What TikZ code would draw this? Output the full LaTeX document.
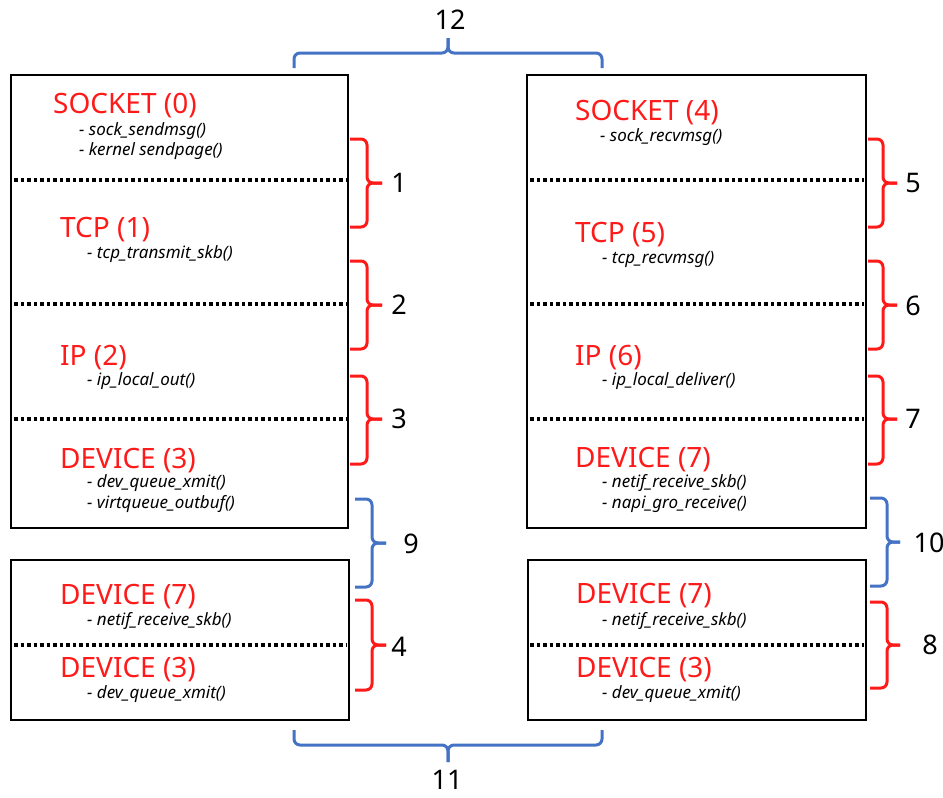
\documentclass[tikz,border=0pt]{standalone}
\usepackage{fontspec}
\setmainfont{Noto Sans}
\definecolor{tred}{HTML}{FF1A1A}
\definecolor{bblue}{HTML}{4472C4}
\newcommand\mybrace[7]{%
  \draw[#7] (#1,#4) -- (#2,#4) -- (#2,#5) -- (#3,#5);
  \draw[#7] (#1,#6) -- (#2,#6) -- (#2,#5) -- (#3,#5);}
\begin{document}
\begin{tikzpicture}[x=1pt,y=-1pt,
 box/.style={draw=black,line width=2pt},
 sep/.style={line width=3.5pt,dash pattern=on 3.5pt off 3pt},
 ttl/.style={anchor=base west,inner sep=0pt,text=tred,font=\fontsize{28}{30}\selectfont},
 fn/.style={anchor=base west,inner sep=0pt,font=\fontsize{17}{19}\selectfont\itshape},
 num/.style={inner sep=0pt,font=\fontsize{27}{30}\selectfont},
 rb/.style={draw=tred,line width=3pt,rounded corners=6pt},
 bb/.style={draw=bblue,line width=3pt,rounded corners=6pt}]
\useasboundingbox (0,0) rectangle (943,798);
% boxes
\draw[box] (11,75) rectangle (348,528);
\draw[box] (527,75) rectangle (866,528);
\draw[box] (11,560) rectangle (349,720);
\draw[box] (528,560) rectangle (866,720);
% separators
\foreach \y in {180,304,419} {
  \draw[sep] (14,\y) -- (346,\y);
  \draw[sep] (530,\y) -- (864,\y);
}
\draw[sep] (14,645) -- (346,645);
\draw[sep] (530,645) -- (864,645);
% left texts
\node[ttl] (s0) at (53,113) {SOCKET (0)};
\node[fn] (s0a) at (79,135) {- sock\_sendmsg()};
\node[fn] (s0b) at (79,155) {- kernel sendpage()};
\node[ttl] (t1) at (60,237) {TCP (1)};
\node[fn] (t1a) at (87,258) {- tcp\_transmit\_skb()};
\node[ttl] (i2) at (60,365) {IP (2)};
\node[fn] (i2a) at (87,385) {- ip\_local\_out()};
\node[ttl] (d3) at (60,468) {DEVICE (3)};
\node[fn] (d3a) at (87,487) {- dev\_queue\_xmit()};
\node[fn] (d3b) at (87,508) {- virtqueue\_outbuf()};
\node[ttl] (ld7) at (60,604) {DEVICE (7)};
\node[fn] (ld7a) at (87,625) {- netif\_receive\_skb()};
\node[ttl] (ld3) at (60,677) {DEVICE (3)};
\node[fn] (ld3a) at (87,698) {- dev\_queue\_xmit()};
% right texts
\node[ttl] (s4) at (575,120) {SOCKET (4)};
\node[fn] (s4a) at (600,141) {- sock\_recvmsg()};
\node[ttl] (t5) at (575,242) {TCP (5)};
\node[fn] (t5a) at (602,263) {- tcp\_recvmsg()};
\node[ttl] (i6) at (575,365) {IP (6)};
\node[fn] (i6a) at (602,385) {- ip\_local\_deliver()};
\node[ttl] (d7) at (575,467) {DEVICE (7)};
\node[fn] (d7a) at (602,487) {- netif\_receive\_skb()};
\node[fn] (d7b) at (602,508) {- napi\_gro\_receive()};
\node[ttl] (rd7) at (576,603) {DEVICE (7)};
\node[fn] (rd7a) at (602,625) {- netif\_receive\_skb()};
\node[ttl] (rd3) at (576,677) {DEVICE (3)};
\node[fn] (rd3a) at (602,698) {- dev\_queue\_xmit()};
% left braces
\mybrace{350}{367}{382}{139}{183}{227}{rb}
\mybrace{350}{367}{382}{261}{305}{349}{rb}
\mybrace{350}{367}{382}{376}{419}{464}{rb}
\mybrace{355}{372}{386}{499}{543}{587}{bb}
\mybrace{355}{372}{386}{600}{645}{690}{rb}
% right braces
\mybrace{868}{883}{897}{139}{183}{227}{rb}
\mybrace{868}{883}{897}{261}{305}{349}{rb}
\mybrace{868}{883}{897}{376}{419}{464}{rb}
\mybrace{870}{887}{900}{498}{542}{586}{bb}
\mybrace{870}{887}{900}{602}{645}{688}{rb}
% top and bottom braces
\draw[bb] (294,68) -- (294,53) -- (448,53) -- (448,38);
\draw[bb] (602,68) -- (602,53) -- (448,53) -- (448,38);
\draw[bb] (294,730) -- (294,745) -- (448,745) -- (448,762);
\draw[bb] (602,730) -- (602,745) -- (448,745) -- (448,762);
% numbers
\node[num] (n1) at (399,183) {1};
\node[num] (n2) at (399,305) {2};
\node[num] (n3) at (399,419) {3};
\node[num] (n9) at (411,544) {9};
\node[num] (n4) at (399,647) {4};
\node[num] (n5) at (913,183) {5};
\node[num] (n6) at (913,306) {6};
\node[num] (n7) at (913,419) {7};
\node[num] (n10) at (929,543) {10};
\node[num] (n8) at (930,645) {8};
\node[num] (n12) at (450,20) {12};
\node[num] (n11) at (447,780) {11};
\end{tikzpicture}
\end{document}
